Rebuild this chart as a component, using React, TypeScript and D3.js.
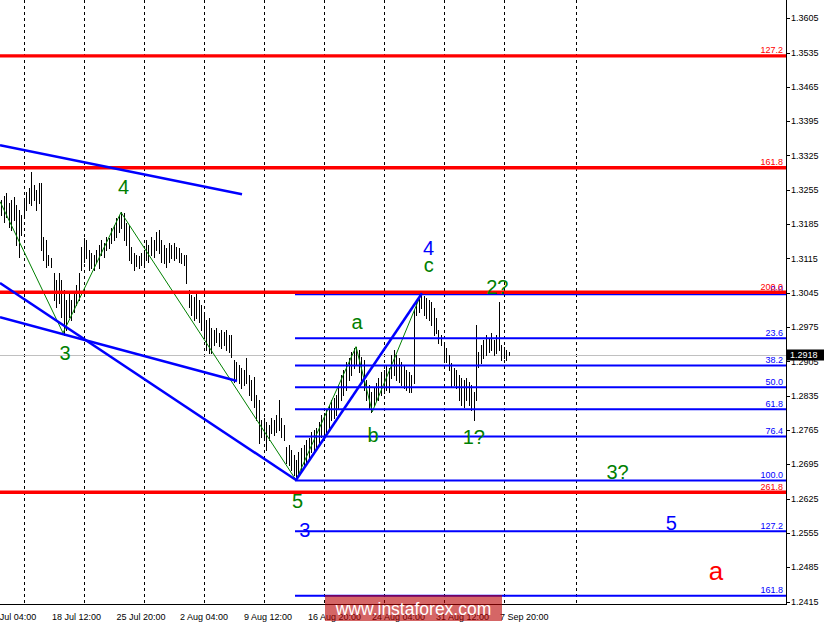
import * as d3 from 'd3';

const W = 825;
const H = 625;
const PLOT_RIGHT = 786;
const PLOT_BOTTOM = 604.5;
const FONT = '"Liberation Sans", Arial, sans-serif';

// bar highs / lows (GBPUSD H4)
const highs = [
  1.3234, 1.3242, 1.3248, 1.3228, 1.3234, 1.324, 1.3224, 1.3214, 1.3203, 1.3234,
  1.325, 1.3258, 1.3291, 1.3265, 1.3254, 1.3269, 1.3269, 1.3158, 1.3152, 1.3122,
  1.3116, 1.3085, 1.3071, 1.3085, 1.3071, 1.305, 1.303, 1.3044, 1.303, 1.3044,
  1.3061, 1.3085, 1.3138, 1.3156, 1.3152, 1.3132, 1.3126, 1.3122, 1.3132, 1.3142,
  1.3152, 1.3146, 1.3158, 1.3156, 1.3177, 1.3183, 1.3197, 1.3203, 1.3209, 1.3207,
  1.3187, 1.3183, 1.3138, 1.3126, 1.3122, 1.312, 1.3126, 1.3132, 1.3152, 1.3142,
  1.3158, 1.3152, 1.3169, 1.3173, 1.3152, 1.3142, 1.3136, 1.3146, 1.3142, 1.3146,
  1.3138, 1.3136, 1.3126, 1.3122, 1.3122, 1.305, 1.304, 1.3036, 1.3046, 1.303,
  1.302, 1.2999, 1.2989, 1.2993, 1.2973, 1.2969, 1.2973, 1.2963, 1.2969, 1.2965,
  1.2969, 1.2959, 1.2959, 1.2908, 1.2904, 1.2897, 1.2891, 1.2887, 1.2912, 1.2877,
  1.2867, 1.2873, 1.2836, 1.2826, 1.2785, 1.2789, 1.2781, 1.2775, 1.2789, 1.2785,
  1.2795, 1.2826, 1.2789, 1.2775, 1.273, 1.2734, 1.2724, 1.2714, 1.2704, 1.272,
  1.2728, 1.2734, 1.2744, 1.2748, 1.2761, 1.2765, 1.2769, 1.2781, 1.2795, 1.2799,
  1.2806, 1.2816, 1.2826, 1.283, 1.2836, 1.2857, 1.2877, 1.2887, 1.2904, 1.2912,
  1.2924, 1.2932, 1.2934, 1.2928, 1.2914, 1.2908, 1.2867, 1.2857, 1.2842, 1.285,
  1.2861, 1.2871, 1.2883, 1.2887, 1.2897, 1.2891, 1.2918, 1.2928, 1.2918, 1.2912,
  1.2904, 1.2897, 1.2887, 1.2883, 1.2877, 1.301, 1.303, 1.3034, 1.3044, 1.3038,
  1.3034, 1.303, 1.3026, 1.3014, 1.2993, 1.2969, 1.2959, 1.2942, 1.2932, 1.2918,
  1.2901, 1.2891, 1.2887, 1.2877, 1.2871, 1.2867, 1.2871, 1.2863, 1.2857, 1.2842,
  1.2979, 1.2924, 1.2938, 1.2948, 1.2959, 1.2953, 1.2963, 1.2948, 1.2959, 1.3026,
  1.2938, 1.2934, 1.2928, 1.2924,
];
const lows = [
  1.3203, 1.3189, 1.3199, 1.3179, 1.3173, 1.3193, 1.3142, 1.3118, 1.3163, 1.3197,
  1.3214, 1.3228, 1.3224, 1.3234, 1.3214, 1.3228, 1.3132, 1.3112, 1.3097, 1.3101,
  1.3097, 1.303, 1.3016, 1.3024, 1.2995, 1.2959, 1.2969, 1.2995, 1.2989, 1.3006,
  1.302, 1.303, 1.3091, 1.3107, 1.3116, 1.3091, 1.3095, 1.3091, 1.3107, 1.3095,
  1.3122, 1.3118, 1.3132, 1.3136, 1.3146, 1.3152, 1.3158, 1.3169, 1.3177, 1.3152,
  1.3142, 1.3112, 1.3105, 1.3091, 1.3099, 1.3095, 1.3101, 1.3097, 1.3112, 1.3107,
  1.3122, 1.3118, 1.3132, 1.3126, 1.3107, 1.3105, 1.3097, 1.3107, 1.3116, 1.3112,
  1.3116, 1.3107, 1.3105, 1.3101, 1.3065, 1.3016, 1.2999, 1.2989, 1.2993, 1.2985,
  1.2969, 1.2953, 1.2928, 1.2922, 1.2922, 1.2938, 1.2944, 1.2936, 1.2932, 1.2938,
  1.2928, 1.2924, 1.2914, 1.2863, 1.2867, 1.2861, 1.285, 1.2857, 1.2861, 1.2836,
  1.2826, 1.2812, 1.2785, 1.2738, 1.275, 1.2744, 1.2724, 1.2744, 1.2759, 1.2755,
  1.2761, 1.2765, 1.275, 1.2744, 1.2697, 1.2693, 1.2683, 1.2673, 1.2663, 1.2675,
  1.2683, 1.2693, 1.2699, 1.2708, 1.272, 1.2724, 1.2728, 1.2734, 1.275, 1.2755,
  1.2761, 1.2769, 1.2785, 1.2789, 1.2795, 1.281, 1.2826, 1.2836, 1.2846, 1.2867,
  1.2877, 1.2891, 1.2897, 1.2883, 1.2867, 1.2846, 1.2826, 1.281, 1.2801, 1.2816,
  1.2826, 1.2826, 1.2836, 1.284, 1.2846, 1.2842, 1.2871, 1.2877, 1.2867, 1.2863,
  1.2857, 1.285, 1.2846, 1.2842, 1.2842, 1.2861, 1.2999, 1.3006, 1.3014, 1.2999,
  1.2993, 1.2989, 1.2979, 1.2959, 1.2963, 1.2942, 1.2938, 1.2908, 1.2904, 1.2887,
  1.2852, 1.2857, 1.285, 1.2826, 1.2816, 1.2812, 1.2826, 1.2816, 1.2806, 1.2785,
  1.2826, 1.2893, 1.2901, 1.2912, 1.2918, 1.2924, 1.2928, 1.2918, 1.2922, 1.2928,
  1.2908, 1.2912, 1.2908, 1.2918,
];
const lastPrice = 1.2918;

// wave zigzag (bar index, price)
const zigIdx = [-0.4, 24.8, 48, 118, 142, 148.5, 168];
const zigPrice = [1.3231, 1.2963, 1.3209, 1.2663, 1.2935, 1.2802, 1.3042];

// blue trend lines [idx0, price0, idx1, price1]
const trendLines = [
  [-0.4, 1.3346, 96.4, 1.3246],
  [-0.4, 1.3065, 118, 1.2663],
  [-0.4, 1.2995, 94.4, 1.2865],
  [118, 1.2663, 168.4, 1.3044],
];

// fibo retracement (blue), anchored on the 5 -> 4 swing
const fibHigh = 1.3042;
const fibLow = 1.2662;
const fibStartIdx = 117.6;
const fibLevels = ['0.0', '23.6', '38.2', '50.0', '61.8', '76.4', '100.0', '127.2', '161.8'];

// fibo expansion (red)
const redLevels = ['127.2', '161.8', '200.0', '261.8'];
const redPrices = [1.3528, 1.33, 1.3046, 1.2638];

const priceTicks = [
  1.3605, 1.3535, 1.3465, 1.3395, 1.3325, 1.3255, 1.3185, 1.3115, 1.3045,
  1.2975, 1.2905, 1.2835, 1.2765, 1.2695, 1.2625, 1.2555, 1.2485, 1.2415,
];
const gridIdx = [9, 33, 57, 81, 105, 129, 153, 177, 201, 229.8];
const dateLabels = [
  '11 Jul 04:00', '18 Jul 12:00', '25 Jul 20:00', '2 Aug 04:00', '9 Aug 12:00',
  '16 Aug 20:00', '24 Aug 04:00', '31 Aug 12:00', '7 Sep 20:00',
];
const dateIdx = [-5.2, 20.4, 46.2, 71.6, 97.2, 122.8, 148.4, 174, 199.6];

// wave marks: text, bar index, price, colour, size
const waveText = ['4', '3', '5', 'a', 'b', 'c', '4', '2?', '1?', '3?', '3', '5', 'a'];
const waveIdx = [49, 25.6, 118.6, 142.4, 148.8, 171.1, 171, 198.5, 189.1, 246.6, 121.5, 268.1, 286];
const wavePrice = [1.3246, 1.2908, 1.2606, 1.2972, 1.2741, 1.3088, 1.3122, 1.3042, 1.2737, 1.2666, 1.2546, 1.2562, 1.246];
const waveColor = ['g', 'g', 'g', 'g', 'g', 'g', 'b', 'g', 'g', 'g', 'b', 'b', 'r'];

const COLORS: Record<string, string> = { g: '#008000', b: '#0000ff', r: '#ff0000' };

export default function App() {
  const x = d3.scaleLinear().domain([0, highs.length - 1]).range([1, 508.5]);
  const y = d3.scaleLinear().domain([1.2415, 1.3605]).range([601.6, 18.2]);
  const px = (i: number) => Math.round(x(i)) + 0.5;

  const zigPath = d3
    .line<number>()
    .x((d) => x(d))
    .y((_, k) => y(zigPrice[k]))(zigIdx);

  const fibPrices = fibLevels.map((l) => fibHigh - ((fibHigh - fibLow) * parseFloat(l)) / 100);

  return (
    <svg
      width={W}
      height={H}
      style={{ position: 'absolute', left: 0, top: 0, background: '#fff' }}
      fontFamily={FONT}
    >
      <rect x={0} y={0} width={W} height={H} fill="#fff" />
      {/* vertical grid */}
      {gridIdx.map((g, k) => (
        <line
          key={k}
          x1={px(g)}
          x2={px(g)}
          y1={0}
          y2={PLOT_BOTTOM}
          stroke="#000"
          strokeDasharray="3,3"
          shapeRendering="crispEdges"
        />
      ))}
      {/* last price line */}
      <line
        x1={0}
        x2={PLOT_RIGHT}
        y1={Math.round(y(lastPrice)) + 0.5}
        y2={Math.round(y(lastPrice)) + 0.5}
        stroke="#c0c0c0"
        shapeRendering="crispEdges"
      />
      {/* bars */}
      <g stroke="#000" shapeRendering="crispEdges">
        {highs.map((h, i) => (
          <line key={i} x1={px(i)} x2={px(i)} y1={Math.round(y(h))} y2={Math.round(y(lows[i])) + 1} />
        ))}
      </g>
      {/* zigzag */}
      <path d={zigPath || ''} fill="none" stroke="#008000" strokeWidth={1} />
      {/* fib retracement */}
      {fibPrices.map((p, k) => (
        <g key={k}>
          <line
            x1={x(fibStartIdx)}
            x2={PLOT_RIGHT}
            y1={y(p)}
            y2={y(p)}
            stroke="#0000ff"
            strokeWidth={2}
          />
          <text x={783} y={y(p) - 2.5} textAnchor="end" fontSize={9} fill="#0000ff">
            {fibLevels[k]}
          </text>
        </g>
      ))}
      {/* red expansion */}
      {redPrices.map((p, k) => (
        <g key={k}>
          <line x1={0} x2={PLOT_RIGHT} y1={y(p)} y2={y(p)} stroke="#ff0000" strokeWidth={3.3} />
          <text x={783} y={y(p) - 2.5} textAnchor="end" fontSize={9} fill="#ff0000">
            {redLevels[k]}
          </text>
        </g>
      ))}
      {/* blue trend lines */}
      {trendLines.map((t, k) => (
        <line
          key={k}
          x1={x(t[0])}
          y1={y(t[1])}
          x2={x(t[2])}
          y2={y(t[3])}
          stroke="#0000ff"
          strokeWidth={2.5}
        />
      ))}
      {/* wave labels */}
      {waveText.map((t, k) => (
        <text
          key={k}
          x={x(waveIdx[k])}
          y={y(wavePrice[k])}
          textAnchor="middle"
          fontSize={waveColor[k] === 'r' ? 26 : 20}
          fill={COLORS[waveColor[k]]}
        >
          {t}
        </text>
      ))}
      {/* axes */}
      <line x1={PLOT_RIGHT + 0.5} x2={PLOT_RIGHT + 0.5} y1={0} y2={PLOT_BOTTOM} stroke="#000" shapeRendering="crispEdges" />
      <line x1={0} x2={PLOT_RIGHT + 0.5} y1={PLOT_BOTTOM} y2={PLOT_BOTTOM} stroke="#000" shapeRendering="crispEdges" />
      {priceTicks.map((p, k) => (
        <g key={k}>
          <line
            x1={PLOT_RIGHT}
            x2={PLOT_RIGHT + 4}
            y1={Math.round(y(p)) + 0.5}
            y2={Math.round(y(p)) + 0.5}
            stroke="#000"
            shapeRendering="crispEdges"
          />
          <text x={791} y={y(p)} dy="0.35em" fontSize={9} fill="#000">
            {p.toFixed(4)}
          </text>
        </g>
      ))}
      <rect x={787} y={y(lastPrice) - 5.5} width={37} height={11} fill="#000" />
      <text x={790} y={y(lastPrice)} dy="0.35em" fontSize={9} fill="#fff">
        {lastPrice.toFixed(4)}
      </text>
      {dateLabels.map((d, k) => (
        <text key={k} x={x(dateIdx[k])} y={620} fontSize={9} fill="#000">
          {d}
        </text>
      ))}
      {/* watermark */}
      <rect x={325} y={595} width={177} height={26} fill="rgba(185,0,0,0.6)" />
      <text x={413.5} y={615} textAnchor="middle" fontSize={17.5} fill="#fff">
        www.instaforex.com
      </text>
    </svg>
  );
}
